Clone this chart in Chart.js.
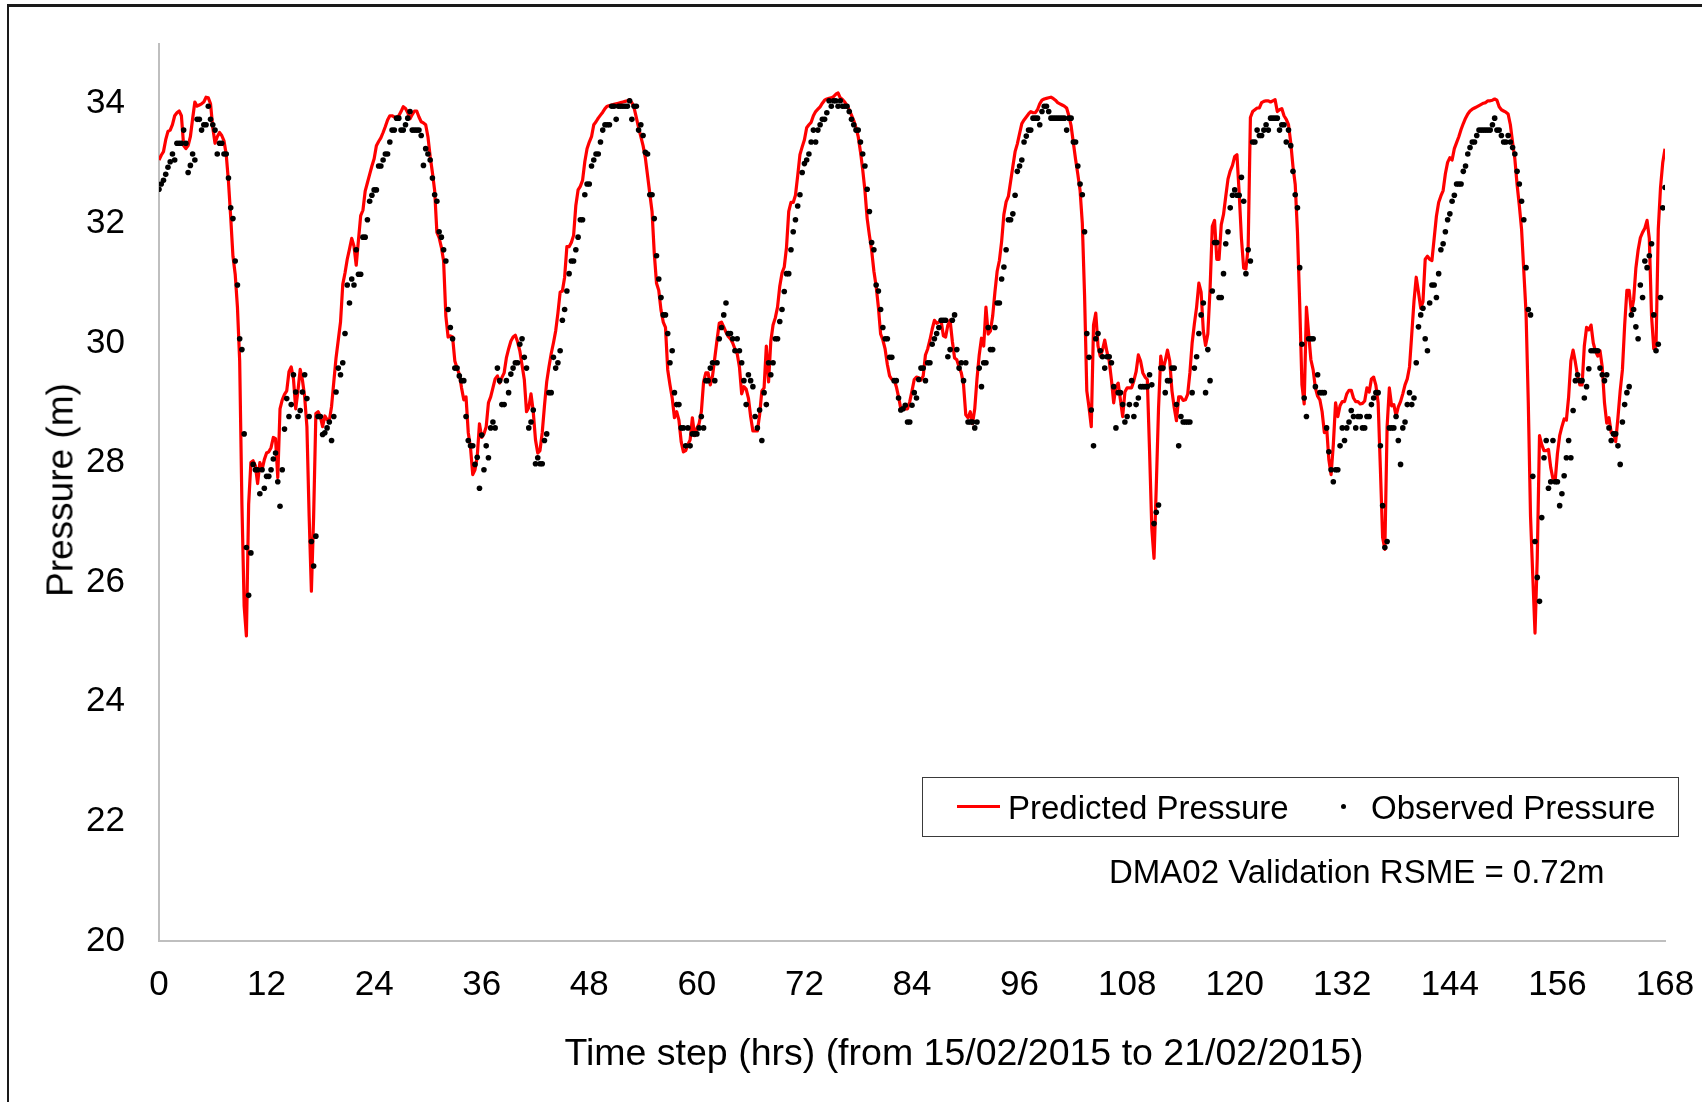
<!DOCTYPE html>
<html>
<head>
<meta charset="utf-8">
<title>DMA02 Validation</title>
<script src="https://cdn.jsdelivr.net/npm/chart.js@4.4.1/dist/chart.umd.min.js"></script>
<style>
    html, body { margin: 0; padding: 0; background: #fff; }
    body { width: 1702px; height: 1102px; position: relative; overflow: hidden;
           font-family: "Liberation Sans", Arial, sans-serif; color: #000; }
    #frame { position: absolute; left: 7px; top: 4px; width: 1702px; height: 1102px;
             border-top: 3px solid #1a1a1a; border-left: 2px solid #1a1a1a; }
    #chart { position: absolute; left: 0; top: 0; }
    .txt { position: absolute; white-space: nowrap; line-height: 1; }
    #xTitle { left: 964px; top: 1053px; font-size: 37.5px; transform: translate(-50%, -50%); }
    #yTitle { left: 60px; top: 490px; font-size: 37px; transform: translate(-50%, -50%) rotate(-90deg); }
    #legend { position: absolute; left: 922px; top: 777px; width: 755px; height: 58px;
              border: 1.5px solid #3a3a3a; }
    .legLine { position: absolute; left: 957px; top: 805px; width: 43px; height: 3px; background: #ff0000; }
    .legDot { position: absolute; left: 1341px; top: 804px; width: 5px; height: 5px; border-radius: 50%; background: #000; }
    .legText { font-size: 33px; transform: translateY(-50%); top: 807px; }
    #note { left: 1109px; top: 871px; font-size: 33px; transform: translateY(-50%); }
</style>
</head>
<body>
<div id="frame"></div>
<canvas id="chart" width="1702" height="1102"></canvas>
<div id="legend"></div>
<div class="legLine"></div>
<div class="txt legText" style="left:1008px">Predicted Pressure</div>
<div class="legDot"></div>
<div class="txt legText" style="left:1371px">Observed Pressure</div>
<div id="note" class="txt">DMA02 Validation RSME = 0.72m</div>
<div id="xTitle" class="txt">Time step (hrs) (from 15/02/2015 to 21/02/2015)</div>
<div id="yTitle" class="txt">Pressure (m)</div>

<script>
// 15-minute time steps, 0 .. 168 hrs
const stepHrs = 0.25;
const xTicks = [0, 12, 24, 36, 48, 60, 72, 84, 96, 108, 120, 132, 144, 156, 168];
const yTicks = [20, 22, 24, 26, 28, 30, 32, 34];

// predicted pressure (m), one row = 12 hrs
const predicted = [
    33.06,33.14,33.2,33.4, 33.54,33.56,33.65,33.8, 33.85,33.88,33.8,33.3, 33.25,33.3,33.45,33.75, 34.03,33.96,33.98,34.0, 34.03,34.11,34.1,34.0,
    33.6,33.34,33.45,33.52, 33.47,33.38,33.15,32.7, 32.1,31.45,31.15,30.6, 29.7,27.3,25.6,25.1, 27.3,28.0,28.03,27.95, 27.65,28.0,27.88,28.05,
    28.16,28.18,28.25,28.42, 28.4,27.75,28.9,29.05, 29.14,29.2,29.52,29.6, 29.4,28.9,29.2,29.56, 29.38,29.1,28.6,27.1, 25.85,27.1,28.82,28.85,
    28.77,28.6,28.78,28.72, 28.7,28.94,29.35,29.75, 30.05,30.35,30.98,31.17, 31.4,31.57,31.75,31.62, 31.3,31.72,32.13,32.22, 32.54,32.68,32.82,32.96,
    33.08,33.3,33.37,33.43, 33.52,33.62,33.73,33.8, 33.8,33.78,33.77,33.8, 33.87,33.95,33.92,33.85, 33.75,33.82,33.88,33.88, 33.78,33.7,33.68,33.65,
    33.45,33.12,32.85,32.55, 31.85,31.76,31.6,31.37, 30.45,30.1,30.12,30.1, 29.7,29.58,29.48,29.25, 29.05,29.1,28.5,28.25, 27.8,27.88,28.1,28.65,
    28.42,28.48,28.6,29.0, 29.1,29.25,29.4,29.45, 29.33,29.42,29.5,29.75, 29.9,30.03,30.1,30.13, 30.02,29.87,29.63,29.39, 28.85,28.92,29.15,28.85,
    28.38,28.16,28.2,28.5, 28.95,29.35,29.6,29.82, 30.0,30.2,30.5,30.85, 30.87,31.1,31.61,31.61, 31.68,31.8,32.3,32.56, 32.62,32.72,33.03,33.25,
    33.36,33.45,33.65,33.7, 33.76,33.81,33.86,33.92, 33.96,33.97,33.98,33.99, 34.0,34.01,34.02,34.03, 34.04,34.05,34.07,34.02, 33.93,33.77,33.6,33.45,
    33.3,33.1,32.8,32.5, 32.2,31.5,31.0,30.88, 30.55,30.35,30.26,29.55, 29.3,29.08,28.75,28.85, 28.71,28.35,28.18,28.2, 28.3,28.38,28.75,28.45,
    28.57,28.65,28.85,29.35, 29.5,29.5,29.3,29.45, 29.75,30.05,30.33,30.35, 30.27,30.18,30.11,30.07, 30.0,29.9,29.82,29.6, 29.15,29.27,29.23,29.08,
    28.77,28.53,28.53,28.53, 28.8,29.2,29.25,29.95, 29.35,30.03,30.3,30.42, 30.6,30.95,31.17,31.27, 31.6,32.2,32.35,32.35, 32.47,32.8,33.15,33.28,
    33.4,33.6,33.65,33.69, 33.8,33.87,33.91,33.95, 34.01,34.06,34.08,34.09, 34.1,34.12,34.16,34.18, 34.1,34.07,34.03,33.97, 33.9,33.81,33.72,33.6,
    33.45,33.2,32.9,32.55, 32.08,31.8,31.55,31.2, 30.95,30.6,30.15,30.05, 29.9,29.64,29.45,29.39, 29.39,29.27,29.1,28.9, 28.9,28.9,28.9,29.02,
    29.2,29.39,29.43,29.42, 29.38,29.45,29.8,29.9, 30.05,30.23,30.38,30.33, 30.35,30.37,30.12,30.1, 30.3,30.38,30.03,29.75, 29.72,29.6,29.5,29.3,
    28.8,28.75,28.85,28.65, 28.9,29.4,29.8,30.08, 29.95,30.6,30.15,30.2, 30.45,30.85,31.2,31.38, 31.7,32.15,32.36,32.45, 32.7,32.95,33.2,33.33,
    33.5,33.67,33.73,33.78, 33.83,33.87,33.85,33.85, 33.9,34.0,34.06,34.08, 34.09,34.1,34.11,34.09, 34.06,34.02,34.0,33.98, 33.96,33.93,33.8,33.63,
    33.35,33.07,32.82,32.55, 32.0,30.8,29.2,28.92, 28.6,30.3,30.5,29.95, 29.78,29.88,30.05,29.85, 29.7,29.38,29.0,29.27, 29.33,29.05,28.77,29.18,
    29.25,29.25,29.25,29.37, 29.52,29.8,29.7,29.5, 29.43,29.39,28.2,26.9, 26.4,27.6,28.9,29.78, 29.55,29.7,29.88,29.7, 29.2,28.92,28.7,29.1,
    29.1,29.04,29.05,29.14, 29.5,30.0,30.32,30.6, 31.0,30.85,30.2,29.96, 30.15,30.9,31.95,32.05, 31.4,31.4,31.98,32.15, 32.45,32.74,32.88,32.97,
    33.12,33.15,32.5,31.75, 31.25,31.24,31.6,33.77, 33.87,33.9,33.93,33.93, 34.02,34.04,34.05,34.05, 34.03,34.05,34.07,33.87, 33.9,33.92,33.8,33.74,
    33.65,33.35,32.95,32.65, 31.85,30.65,29.3,28.98, 30.6,30.15,29.72,29.55, 29.25,29.11,29.05,28.85, 28.5,28.6,28.05,27.8, 28.3,29.0,28.77,28.95,
    29.02,29.02,29.15,29.21, 29.21,29.08,29.02,29.02, 28.98,28.99,29.03,29.25, 29.18,29.4,29.43,29.29, 29.0,27.9,26.75,26.55, 28.6,29.25,28.95,28.97,
    28.78,28.93,29.02,29.15, 29.3,29.4,29.6,30.15, 30.7,31.1,30.85,30.58, 30.69,31.4,31.45,31.4, 31.38,31.75,32.12,32.35, 32.46,32.55,32.83,33.02,
    33.1,33.06,33.25,33.35, 33.45,33.57,33.67,33.76, 33.83,33.88,33.91,33.93, 33.95,33.97,33.99,34.01, 34.02,34.05,34.05,34.06, 34.08,34.06,33.95,33.9,
    33.88,33.86,33.83,33.65, 33.35,33.08,32.65,32.3, 31.9,31.2,30.5,29.0, 27.1,26.1,25.15,26.4, 28.45,28.3,28.2,28.2, 28.22,27.92,27.73,27.7,
    28.15,28.45,28.6,28.73, 28.71,29.1,29.7,29.88, 29.68,29.45,29.3,29.3, 29.95,30.26,30.22,30.3, 30.0,29.86,29.78,29.87, 29.6,29.0,28.66,28.75,
    28.5,28.5,28.35,28.75, 29.2,29.55,30.3,30.88, 30.88,30.52,30.72,31.25, 31.55,31.76,31.85,31.92, 32.05,31.75,30.45,29.9, 29.95,31.9,32.6,33.02,
    33.25
];

// observed pressure (m), one row = 12 hrs
const observed = [
    32.57,32.66,32.72,32.82, 32.94,33.03,33.16,33.06, 33.34,33.34,33.34,33.56, 33.34,32.85,32.97,33.16, 33.06,33.74,33.74,33.56, 33.65,33.65,33.96,33.74,
    33.65,33.56,33.16,33.34, 33.34,33.16,33.16,32.76, 32.26,32.08,31.37,30.97, 30.07,29.89,28.48,26.58, 25.78,26.49,27.97,27.88, 27.88,27.48,27.88,27.57,
    27.77,27.77,27.88,28.06, 28.16,27.68,27.27,27.88, 28.56,29.07,28.77,28.97, 29.47,29.18,28.77,28.87, 29.18,29.47,29.07,28.77, 26.68,26.27,26.77,28.77,
    28.77,28.47,28.5,28.58, 28.68,28.37,28.77,29.18, 29.58,29.47,29.67,30.16, 30.97,30.67,31.07,30.97, 31.56,31.15,31.15,31.77, 31.77,32.06,32.37,32.47,
    32.56,32.56,32.96,32.96, 33.06,33.16,33.16,33.36, 33.56,33.56,33.76,33.76, 33.56,33.56,33.65,33.76, 33.87,33.56,33.56,33.56, 33.56,33.47,32.97,33.25,
    33.16,33.06,32.76,32.48, 32.37,31.86,31.77,31.56, 31.37,30.56,30.26,30.07, 29.58,29.58,29.45,29.37, 29.37,28.77,28.37,28.28, 28.28,27.97,28.09,27.57,
    28.46,27.88,28.28,28.08, 28.58,28.68,28.58,29.58, 29.37,28.97,28.97,29.37, 29.17,29.48,29.58,29.67, 29.67,29.98,30.07,29.76, 29.58,28.58,28.68,28.88,
    27.98,28.08,27.98,27.98, 28.37,28.48,29.17,29.17, 29.76,29.58,29.67,29.87, 30.38,30.56,30.87,31.16, 31.37,31.37,31.56,31.77, 32.06,32.06,32.48,32.66,
    32.66,32.96,33.06,33.16, 33.16,33.36,33.56,33.65, 33.65,33.65,33.96,33.96, 33.74,33.96,33.96,33.96, 33.96,33.96,34.05,33.74, 33.96,33.96,33.56,33.65,
    33.47,33.19,33.16,32.48, 32.48,32.08,31.46,31.07, 30.76,30.47,30.47,30.16, 29.67,29.87,29.17,28.97, 28.97,28.58,28.58,28.28, 28.58,28.28,28.48,28.48,
    28.48,28.58,28.77,28.58, 29.37,29.37,29.58,29.67, 29.37,29.67,30.07,30.26, 30.47,30.67,30.16,30.16, 30.07,29.87,30.07,29.87, 29.67,29.37,28.97,29.47,
    29.37,29.27,28.77,28.58, 28.88,28.37,29.17,28.97, 29.67,29.47,29.67,30.07, 30.07,30.36,30.56,30.86, 31.16,31.16,31.56,31.86, 32.06,32.29,32.48,32.85,
    33.0,33.06,33.16,33.36, 33.56,33.36,33.56,33.65, 33.74,33.74,33.85,34.05, 33.96,34.05,34.05,33.96, 34.05,33.96,33.96,33.96, 33.87,33.74,33.65,33.56,
    33.56,33.36,33.16,32.96, 32.57,32.2,31.68,31.56, 30.97,30.87,30.56,30.26, 30.07,30.07,29.76,29.76, 29.37,29.37,29.08,28.88, 28.9,28.96,28.68,28.68,
    28.96,29.17,29.08,29.39, 29.58,29.58,29.37,29.67, 29.67,29.98,30.07,30.16, 30.26,30.38,30.38,30.38, 29.77,29.89,30.38,30.47, 29.89,29.58,29.67,29.37,
    29.67,28.68,28.68,28.68, 28.58,28.68,29.58,29.27, 29.67,29.67,30.26,29.89, 29.89,30.26,30.67,30.67, 31.07,31.27,31.56,32.06, 32.06,32.16,32.47,32.87,
    32.96,33.06,33.36,33.46, 33.56,33.56,33.76,33.76, 33.76,33.65,33.87,33.96, 33.96,33.87,33.76,33.76, 33.76,33.76,33.76,33.76, 33.76,33.56,33.76,33.76,
    33.36,33.36,32.96,32.66, 32.48,31.86,30.16,29.76, 28.88,28.28,30.07,30.16, 29.87,29.77,29.58,29.77, 29.77,29.67,29.27,28.58, 29.17,29.17,28.97,28.68,
    28.77,28.97,29.37,28.77, 28.97,29.08,29.27,29.27, 29.27,29.27,29.47,29.3, 26.98,27.17,27.29,29.58, 29.58,29.17,29.37,29.37, 29.58,29.58,28.97,28.28,
    28.77,28.68,28.68,28.68, 28.68,29.17,29.58,29.77, 30.16,30.47,30.67,29.17, 29.89,29.37,30.87,31.68, 31.68,30.76,30.76,31.16, 31.66,31.86,32.26,32.47,
    32.56,32.47,32.47,32.77, 32.37,31.16,31.56,31.37, 33.36,33.36,33.56,33.47, 33.47,33.56,33.65,33.56, 33.76,33.76,33.76,33.76, 33.56,33.65,33.65,33.36,
    33.56,33.3,32.87,32.48, 32.26,31.26,29.98,29.08, 28.77,30.07,30.07,30.07, 29.27,29.47,29.17,29.17, 29.17,28.58,28.18,27.88, 27.68,27.88,27.88,28.28,
    28.58,28.37,28.58,28.68, 28.87,28.77,28.58,28.77, 28.77,28.58,28.58,28.77, 28.77,28.97,29.08,29.17, 29.17,28.28,27.28,26.58, 26.68,28.58,28.58,28.58,
    28.77,28.37,27.97,28.58, 28.68,28.97,29.17,28.97, 29.08,29.67,30.27,30.47, 30.58,30.07,29.87,30.67, 30.97,30.97,30.76,31.16, 31.56,31.66,31.86,32.06,
    32.16,32.37,32.47,32.66, 32.66,32.66,32.87,32.96, 33.16,33.27,33.36,33.36, 33.47,33.56,33.56,33.56, 33.56,33.56,33.56,33.65, 33.76,33.56,33.56,33.47,
    33.36,33.36,33.47,33.36, 33.27,33.16,32.87,32.66, 32.37,32.06,31.26,30.56, 30.47,27.77,26.68,26.08, 25.68,27.08,28.08,28.37, 27.57,27.68,28.37,27.68,
    27.68,27.28,27.48,27.78, 28.08,28.37,28.08,28.87, 29.37,29.47,29.37,29.37, 29.08,29.27,29.57,29.87, 29.87,29.87,29.87,29.58, 29.47,29.37,29.47,28.58,
    28.37,28.48,28.48,28.28, 27.97,28.68,28.97,29.17, 29.27,30.47,30.56,30.27, 30.07,30.97,30.76,31.37, 31.26,31.46,31.66,30.47, 29.87,29.98,30.76,32.26,
    32.6
];

const fontFamily = '"Liberation Sans", Arial, sans-serif';

function toPoints(values) {
    return values.map((v, i) => ({ x: i * stepHrs, y: v }));
}

// keep Chart.js from adding its own label-overflow padding,
// the plot box is set by layout.padding + the fixed axis sizes
function fixX(scale) {
    scale.height = 161;
    scale.paddingLeft = 0;
    scale.paddingRight = 0;
}
function fixY(scale) {
    scale.width = 159;
    scale.paddingTop = 0;
    scale.paddingBottom = 0;
}

new Chart(document.getElementById('chart'), {
    type: 'line',
    data: {
        datasets: [
            {
                // observed first so the dots sit on top of the red line
                label: 'Observed Pressure',
                data: toPoints(observed),
                showLine: false,
                pointRadius: 2.8,
                pointBorderWidth: 0,
                pointBackgroundColor: '#000',
                pointBorderColor: '#000'
            },
            {
                label: 'Predicted Pressure',
                data: toPoints(predicted),
                borderColor: '#ff0000',
                borderWidth: 3.2,
                pointRadius: 0,
                tension: 0,
                borderJoinStyle: 'round',
                fill: false
            }
        ]
    },
    options: {
        responsive: false,
        animation: false,
        devicePixelRatio: 1,
        layout: { padding: { top: 44, right: 37, left: 0, bottom: 0 } },
        plugins: {
            legend: { display: false },
            tooltip: { enabled: false }
        },
        scales: {
            x: {
                type: 'linear',
                min: 0,
                max: 168,
                grid: { display: false },
                border: { color: '#bfbfbf', width: 2 },
                afterBuildTicks: scale => { scale.ticks = xTicks.map(v => ({ value: v })); },
                ticks: {
                    color: '#000',
                    font: { family: fontFamily, size: 35 },
                    padding: 15,
                    maxRotation: 0,
                    autoSkip: false
                },
                afterFit: fixX
            },
            y: {
                type: 'linear',
                min: 20,
                max: 35,
                grid: { display: false },
                border: { color: '#bfbfbf', width: 2 },
                afterBuildTicks: scale => { scale.ticks = yTicks.map(v => ({ value: v })); },
                ticks: {
                    color: '#000',
                    font: { family: fontFamily, size: 35 },
                    padding: 26
                },
                afterFit: fixY
            }
        }
    }
});
</script>
</body>
</html>
